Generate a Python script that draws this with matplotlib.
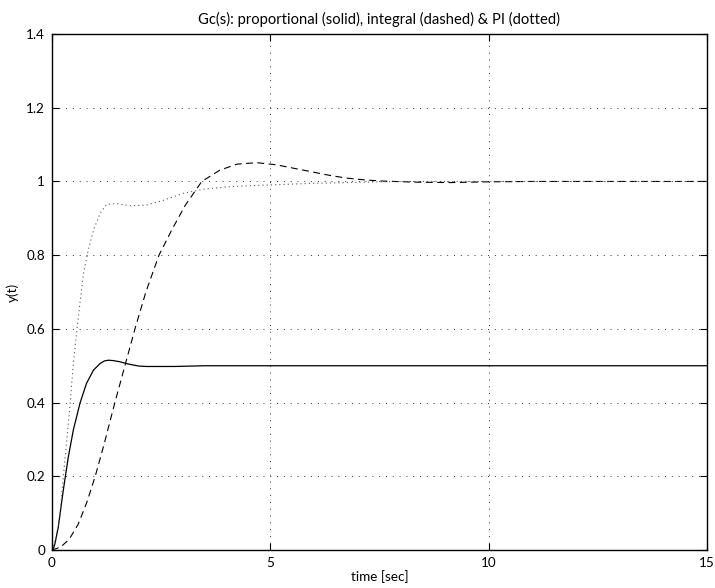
import matplotlib
matplotlib.use('Agg')
import matplotlib.pyplot as plt

# step responses
t_p = [0, 0.04, 0.07, 0.145, 0.26, 0.375, 0.49, 0.64, 0.79, 0.95, 1.1, 1.2,
       1.29, 1.4, 1.55, 1.7, 1.86, 2.0, 2.17, 2.8, 3.5, 15]
y_p = [0, 0.006, 0.018, 0.063, 0.163, 0.253, 0.326, 0.398, 0.452, 0.488,
       0.506, 0.513, 0.515, 0.514, 0.511, 0.506, 0.502, 0.499, 0.498, 0.498,
       0.5, 0.5]

t_i = [0, 0.2, 0.4, 0.6, 0.8, 0.99, 1.2, 1.44, 1.67, 1.9, 2.15, 2.45, 2.75,
       3.05, 3.43, 3.85, 4.24, 4.69, 5.15, 5.53, 6.0, 6.38, 6.76, 7.18, 7.6,
       8.36, 9.13, 9.97, 11.0, 15.0]
y_i = [0, 0.008, 0.03, 0.07, 0.13, 0.2, 0.29, 0.4, 0.5, 0.6, 0.7, 0.8, 0.87,
       0.935, 1.0, 1.031, 1.047, 1.051, 1.045, 1.036, 1.025, 1.016, 1.009,
       1.004, 1.001, 0.998, 0.997, 0.999, 1.0, 1.0]

t_pi = [0, 0.1, 0.18, 0.26, 0.34, 0.41, 0.49, 0.57, 0.64, 0.72, 0.83, 0.95,
        1.1, 1.25, 1.48, 1.79, 2.17, 2.55, 3.01, 3.47, 4.08, 4.85, 6.0, 7.13,
        8.0, 15]
y_pi = [0, 0.035, 0.09, 0.2, 0.298, 0.389, 0.507, 0.597, 0.669, 0.75, 0.814,
        0.868, 0.913, 0.938, 0.94, 0.934, 0.936, 0.949, 0.968, 0.979, 0.986,
        0.99, 0.995, 0.998, 1.0, 1.0]

x_ticks = [0, 5, 10, 15]
y_ticks = [0, 0.2, 0.4, 0.6, 0.8, 1, 1.2, 1.4]
y_labels = ['0', '0.2', '0.4', '0.6', '0.8', '1', '1.2', '1.4']

plt.rcParams['font.family'] = ['Lato', 'DejaVu Sans']
plt.rcParams['font.size'] = 9.7

fig = plt.figure(figsize=(7.15, 5.88), dpi=100)
ax = fig.add_axes([0.0727, 0.0646, 0.9161, 0.8775])

ax.plot(t_p, y_p, color='black', linewidth=0.9)
ax.plot(t_i, y_i, color='black', linewidth=0.8, linestyle=(0, (6.2, 4)))
ax.plot(t_pi, y_pi, color='#555555', linewidth=0.8, linestyle=(0, (1, 2.8)))

ax.set_xlim(0, 15)
ax.set_ylim(0, 1.4)
ax.set_xticks(x_ticks)
ax.set_yticks(y_ticks)
ax.set_yticklabels(y_labels)
ax.tick_params(direction='in', length=5, width=0.8, top=True, right=True,
               pad=5, labelsize=9.7)
ax.grid(color='#333333', linestyle=(0, (1, 6)), linewidth=0.7)
for s in ax.spines.values():
    s.set_linewidth(1.0)

ax.set_title('Gc(s): proportional (solid), integral (dashed) & PI (dotted)',
             fontsize=10.6, pad=7)
ax.set_xlabel('time [sec]', labelpad=1)
ax.set_ylabel('y(t)', labelpad=5)

fig.savefig('out.png', dpi=100)
